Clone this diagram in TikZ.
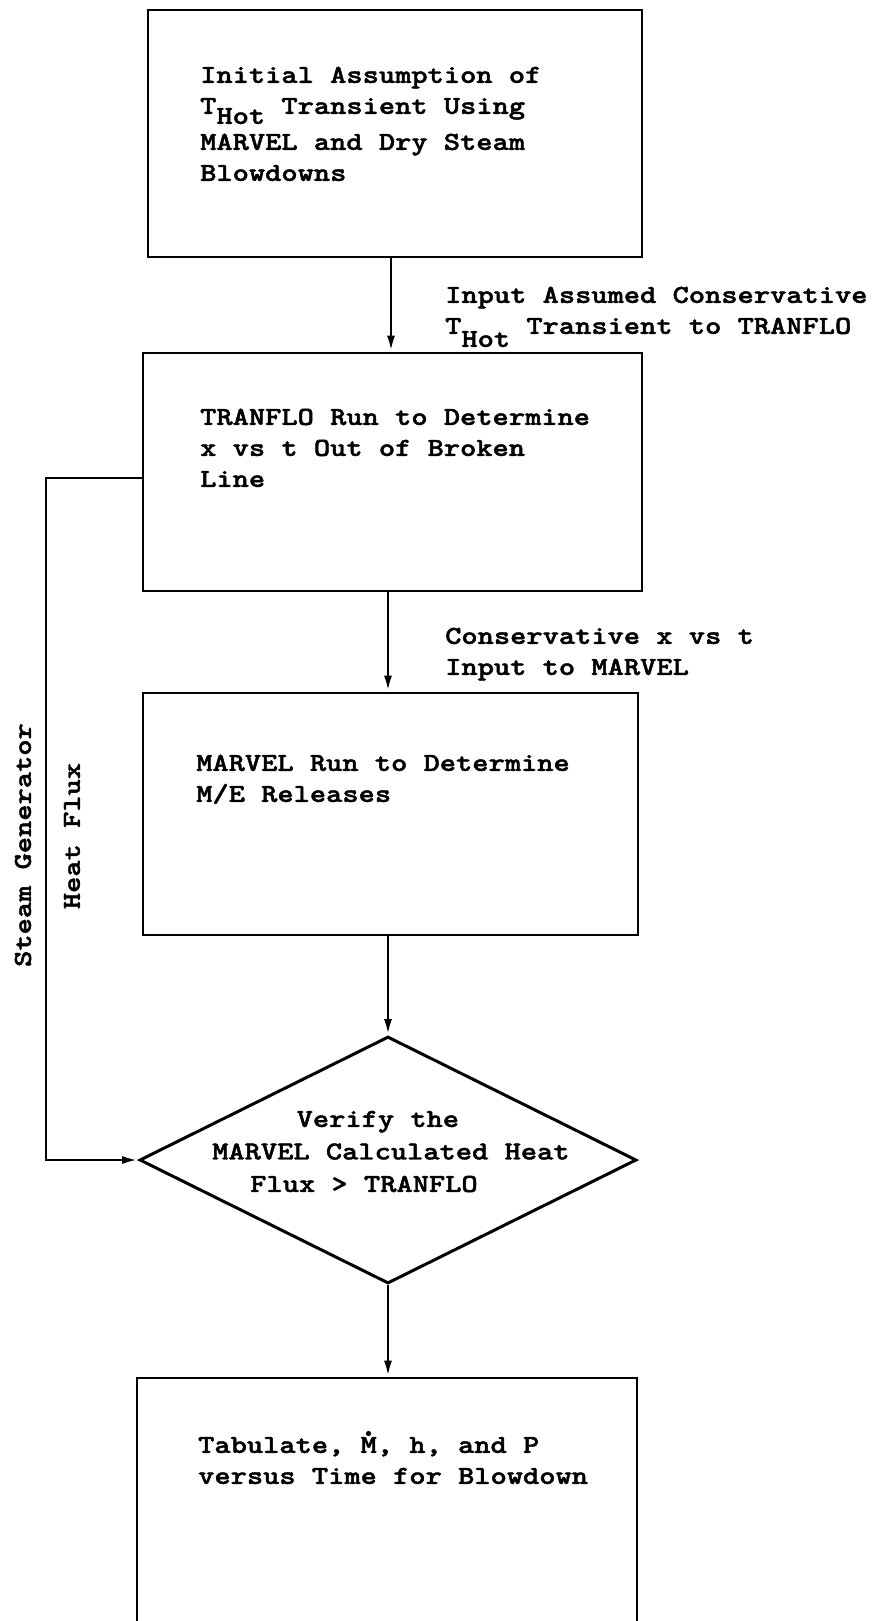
\documentclass[tikz,border=0pt]{standalone}
\usepackage{fontspec}
\usepackage{graphicx}
\usetikzlibrary{arrows.meta,shapes.geometric,calc}
\newfontfamily\twf{lmmonolt10-bold.otf}[FakeBold=1.5]
\newcommand\twfont{\twf\fontsize{26}{31}\selectfont}
\newcommand\twdia{\twf\fontsize{26}{32.5}\selectfont}
\newcommand\sx[1]{\scalebox{1.19}[1]{\begin{tabular}{@{}l@{}}#1\end{tabular}}}
\tikzset{
  boxnode/.style={draw, line width=2.9pt, rectangle, inner sep=0pt},
  dianode/.style={draw, line width=3pt, diamond, inner sep=0pt},
  txt/.style={font=\twfont, inner sep=0pt, anchor=north west},
  diatxt/.style={font=\twdia, inner sep=0pt, anchor=north west},
  side/.style={font=\twfont, rotate=90, inner sep=0pt},
  conn/.style={line width=2.7pt},
  arr/.style={conn, -{Latex[length=16pt,width=8pt]}},
}
\begin{document}
\begin{tikzpicture}[x=1pt,y=-1pt]
\useasboundingbox (0,0) rectangle (882,1621);
\clip (0,0) rectangle (882,1621);
\fill[white] (0,0) rectangle (882,1621);

% boxes
\node[boxnode, minimum width=494pt, minimum height=247pt] (b1) at (395,133.5) {};
\node[boxnode, minimum width=499pt, minimum height=238pt] (b2) at (392.5,472) {};
\node[boxnode, minimum width=495pt, minimum height=242pt] (b3) at (390.5,814) {};
\node[dianode, minimum width=497pt, minimum height=247pt] (d) at (388,1160) {};
\node[boxnode, minimum width=500pt, minimum height=282pt] (b5) at (387,1519) {};

% texts in boxes
\node[txt] (t1) at (200,61) {\sx{Initial Assumption of\\T\raisebox{-10pt}{Hot} Transient Using\\[5pt]MARVEL and Dry Steam\\Blowdowns}};
\node[txt] (t2) at (200,403) {\sx{TRANFLO Run to Determine\\x vs t Out of Broken\\Line}};
\node[txt] (t3) at (196,749) {\sx{MARVEL Run to Determine\\M/E Releases}};
\node[diatxt] (t4) at (212,1104) {\sx{\hspace*{71pt}Verify the\\MARVEL Calculated Heat\\\hspace*{32pt}Flux > TRANFLO}};
\node[txt] (t5) at (198,1431) {\sx{Tabulate, M, h, and P\\versus Time for Blowdown}};
\fill ($(t5.north west)+(170.5,2.5)$) circle (2.6pt);

% connector labels
\node[txt] (l1) at (445,281) {\sx{Input Assumed Conservative\\T\raisebox{-13pt}{Hot} Transient to TRANFLO}};
\node[txt] (l2) at (445,622) {\sx{Conservative x vs t\\Input to MARVEL}};
\node[side] (s1) at (23,845) {\scalebox{1.19}[1]{Steam Generator}};
\node[side] (s2) at (72,836) {\scalebox{1.19}[1]{Heat Flux}};

% connectors
\coordinate (a1) at (391,0);
\coordinate (a2) at (388,0);
\draw[arr] (b1.south -| a1) -- (b2.north -| a1);
\draw[arr] (b2.south -| a2) -- (b3.north -| a2);
\draw[arr] (b3.south -| d.north) -- (d.north);
\draw[arr] (d.south) -- (b5.north -| d.south);
\coordinate (fb) at (46,478);
\draw[arr] (b2.west |- fb) -- (fb) |- (d.west);
\end{tikzpicture}
\end{document}
